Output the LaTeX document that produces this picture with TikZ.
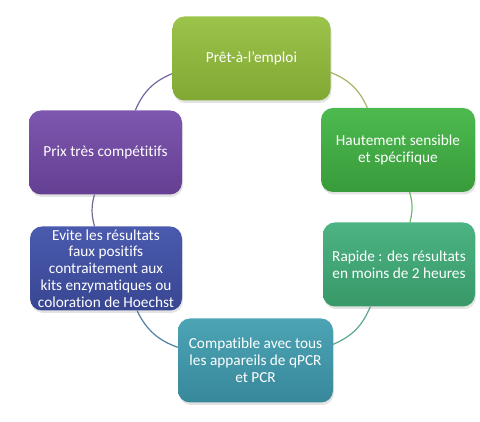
\documentclass[tikz,border=0pt]{standalone}
\usepackage{fontspec}
\setmainfont[Ligatures=NoCommon]{Carlito}
\usetikzlibrary{shadows,backgrounds}
\definecolor{c1t}{HTML}{9CC44B}
\definecolor{c1b}{HTML}{80A833}
\definecolor{c2t}{HTML}{4DBA4F}
\definecolor{c2b}{HTML}{389B3B}
\definecolor{c3t}{HTML}{4CB383}
\definecolor{c3b}{HTML}{389868}
\definecolor{c4t}{HTML}{4CA4B4}
\definecolor{c4b}{HTML}{37889A}
\definecolor{c5t}{HTML}{4A5AAE}
\definecolor{c5b}{HTML}{384692}
\definecolor{c6t}{HTML}{7D57AE}
\definecolor{c6b}{HTML}{643F92}
\definecolor{a1}{HTML}{A6B46A}
\definecolor{a2}{HTML}{6DBB6D}
\definecolor{a3}{HTML}{5AA888}
\definecolor{a4}{HTML}{4F7F9E}
\definecolor{a5}{HTML}{6C6B92}
\definecolor{a6}{HTML}{7465A2}

\tikzset{
  cyclebox/.style={rounded corners=12pt, minimum width=#1, minimum height=84pt,
    inner xsep=2pt, inner ysep=0pt,
    align=center, text=white, font=\fontsize{15.3}{16.8}\selectfont,
    drop shadow={opacity=0.22, shadow xshift=1pt, shadow yshift=-2.5pt}},
  cyclearc/.style={line width=1.2pt}
}

\begin{document}
\begin{tikzpicture}[x=1pt,y=1pt]
			\useasboundingbox (0,0) rectangle (480,422);

			\node[cyclebox=158pt, top color=c1t, bottom color=c1b] (pret) at (251.5,363.5) {Prêt-à-l'emploi};
			\node[cyclebox=154pt, top color=c2t, bottom color=c2b] (sensible) at (398,272) {Hautement sensible\\et spécifique};
			\node[cyclebox=152pt, top color=c3t, bottom color=c3b] (rapide) at (399,157.5) {Rapide : des résultats\\en moins de 2 heures};
			\node[cyclebox=155pt, top color=c4t, bottom color=c4b] (compatible) at (255.5,61.5) {Compatible avec tous\\les appareils de qPCR\\et PCR};
			\node[cyclebox=152pt, top color=c5t, bottom color=c5b] (evite) at (106,153.5) {Evite les résultats\\faux positifs\\contraitement aux\\kits enzymatiques ou\\coloration de Hoechst};
			\node[cyclebox=153pt, top color=c6t, bottom color=c6b] (prix) at (105.5,269.5) {Prix très compétitifs};

			\begin{scope}[on background layer]
			\draw[cyclearc, a1] (pret) to[bend left=22] (sensible);
			\draw[cyclearc, a2] (sensible) to[bend left=15] (rapide);
			\draw[cyclearc, a3] (rapide) to[bend left=22] (compatible);
			\draw[cyclearc, a4] (compatible) to[bend left=22] (evite);
			\draw[cyclearc, a5] (evite) to[bend left=15] (prix);
			\draw[cyclearc, a6] (prix) to[bend left=22] (pret);
			\end{scope}

		\end{tikzpicture}
\end{document}
